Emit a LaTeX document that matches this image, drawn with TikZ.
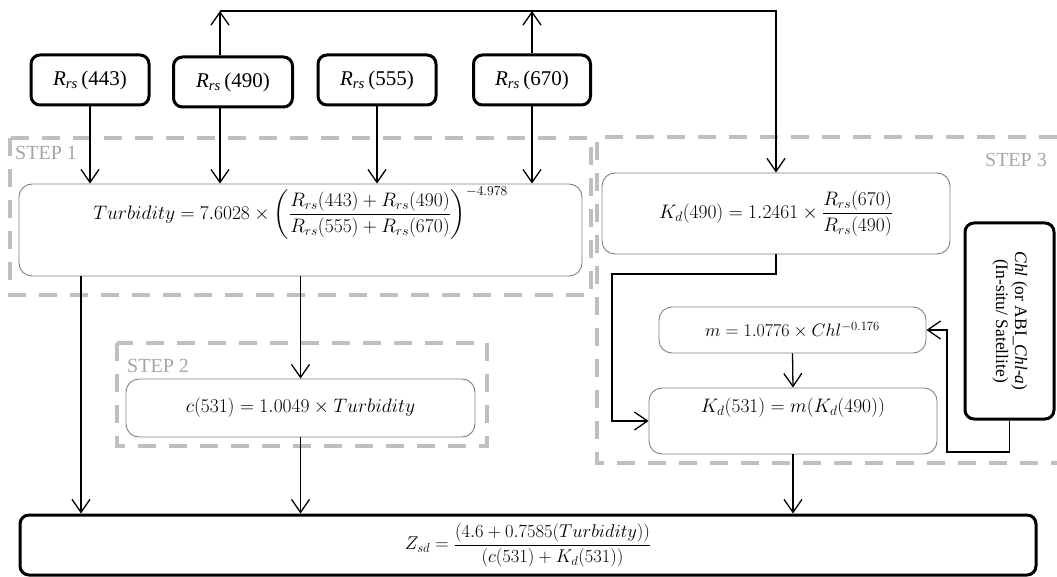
\documentclass[tikz,border=0pt]{standalone}
\usepackage{fix-cm}
\usepackage{amsmath}
\usepackage{fontspec}
\setmainfont{Liberation Serif}
\usetikzlibrary{arrows.meta,calc}
\definecolor{frame}{HTML}{BFBFBF}
\definecolor{framelab}{HTML}{A6A6A6}
\definecolor{eqline}{HTML}{808080}
\tikzset{
  inbox/.style={draw=black, line width=3pt, rounded corners=9pt, fill=white,
    inner sep=2pt, font=\fontsize{21pt}{24pt}\selectfont},
  eqbox/.style={draw=eqline, line width=0.9pt, rounded corners=13pt, fill=white,
    inner sep=2pt},
  stepframe/.style={draw=frame, line width=4pt, dash pattern=on 18pt off 13pt},
  steplab/.style={text=framelab, font=\fontsize{20pt}{24pt}\selectfont, inner sep=0pt},
  arr/.style={-{Straight Barb[length=13pt,width=18pt]}, line width=1.3pt},
}
\newcommand{\rrs}[1]{\textit{R}\textsubscript{\textit{rs}}\,(#1)}

\begin{document}
\begin{tikzpicture}[x=1pt, y=-1pt, font=\fontsize{19.5pt}{23pt}\selectfont]
  \useasboundingbox (0,0) rectangle (1057,577);
  % dashed step frames
  \draw[stepframe] (10,138) rectangle (591,295);
  \draw[stepframe] (117,343) rectangle (487,446);
  \draw[stepframe] (1057,137) -- (597,137) -- (597,463) -- (1057,463);
  \node[steplab, anchor=west] (s1) at (15,153) {STEP 1};
  \node[steplab, anchor=west] (s2) at (127,366) {STEP 2};
  \node[steplab, anchor=east] (s3) at (1047,160) {STEP 3};

  \node[inbox, minimum width=118pt, minimum height=50pt] (r443) at (90,80) {\rrs{443}};
  \node[inbox, minimum width=119pt, minimum height=50pt] (r490) at (233,82) {\rrs{490}};
  \node[inbox, minimum width=118pt, minimum height=50pt] (r555) at (377,80) {\rrs{555}};
  \node[inbox, minimum width=117pt, minimum height=50pt] (r670) at (532,80) {\rrs{670}};

  \node[eqbox, minimum width=563pt, minimum height=92pt, text height=26pt, text depth=47pt]
    (turb) at (300.5,230)
    {$\displaystyle Turbidity = 7.6028\times\left(\frac{R_{rs}(443)+R_{rs}(490)}{R_{rs}(555)+R_{rs}(670)}\right)^{-4.978}$};
  \node[eqbox, minimum width=349pt, minimum height=58pt] (c531) at (300.5,408)
    {$c(531) = 1.0049\times Turbidity$};
  \node[eqbox, minimum width=348pt, minimum height=81pt] (kd490) at (776,213.5)
    {$\displaystyle K_d(490) = 1.2461\times\frac{R_{rs}(670)}{R_{rs}(490)}$};
  \node[eqbox, minimum width=267pt, minimum height=46pt, font=\fontsize{18pt}{22pt}\selectfont]
    (m) at (792.5,330) {$m = 1.0776\times Chl^{-0.176}$};
  \node[eqbox, minimum width=288pt, minimum height=66pt, text height=15pt, text depth=32pt]
    (kd531) at (793,421) {$K_d(531) = m(K_d(490))$};
  \node[inbox, minimum width=89pt, minimum height=196pt, font=\fontsize{17.5pt}{19pt}\selectfont]
    (chl) at (1009.5,321)
    {\rotatebox{-90}{\begin{tabular}{@{}c@{}}\textit{Chl} (or ABI\_\textit{Chl-a})\\(In-situ/ Satellite)\end{tabular}}};
  \node[inbox, minimum width=1016pt, minimum height=60pt, font=\fontsize{18.5pt}{22pt}\selectfont]
    (zsd) at (528,545)
    {$\displaystyle Z_{sd} = \frac{(4.6+0.7585(Turbidity))}{(c(531)+K_d(531))}$};

  \coordinate (bus) at (776,11);
  \coordinate (bend) at (612,274);
  \coordinate (loop) at (947,452);

  \draw[arr] (r443.south) -- (r443.south |- turb.north);
  \draw[arr] ([xshift=-13pt]r490.south) -- ([xshift=-13pt]r490.south |- turb.north);
  \draw[arr] (r555.south) -- (r555.south |- turb.north);
  \draw[arr] (r670.south) -- (r670.south |- turb.north);
  \draw[arr] ([xshift=-13pt]r490.north) -- ([xshift=-13pt]r490.north |- bus);
  \draw[arr] (r670.north) -- (r670.north |- bus);
  \draw[arr] ([xshift=-13pt]r490.north |- bus) -- (bus) -- (kd490.north);

  \draw[arr] ([xshift=-219.5pt]turb.south) -- ([xshift=-219.5pt]turb.south |- zsd.north);
  \draw[arr] (turb.south) -- (c531.north);
  \draw[arr] (c531.south) -- (c531.south |- zsd.north);

  \draw[arr] (kd490.south) |- (bend) |- (kd531.west);
  \draw[arr] (m.south) -- (kd531.north);
  \draw[arr] (chl.south) |- (loop) |- (m.east);
  \draw[arr] (kd531.south) -- (kd531.south |- zsd.north);
\end{tikzpicture}
\end{document}
